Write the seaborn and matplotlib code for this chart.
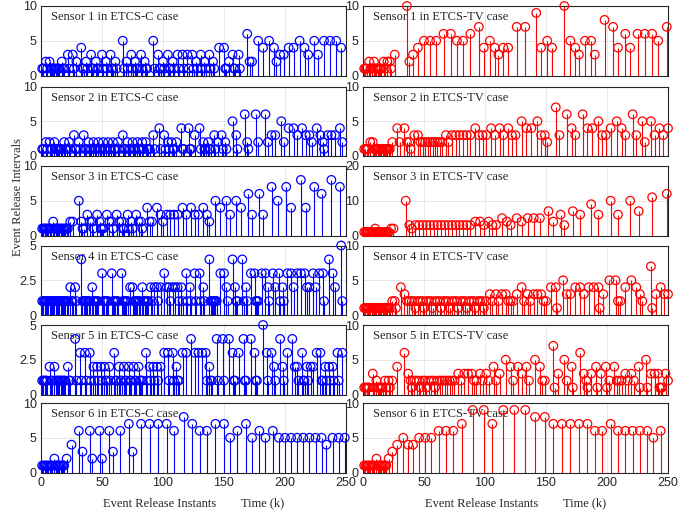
import numpy as np
import matplotlib
matplotlib.use("Agg")
import matplotlib.pyplot as plt
import seaborn as sns

# event release intervals of each sensor, read in event order
# (the release instants are the running sum of the intervals)
c_s1 = [1, 1, 2, 1, 2, 1, 1, 1, 1, 1, 1, 1, 1, 2, 1, 1, 3, 1, 3, 1, 2, 4, 1, 1, 2, 1, 3, 1, 1, 2,
        1, 1, 3, 1, 2, 1, 3, 1, 1, 2, 1, 5, 1, 2, 1, 3, 1, 2, 1, 1, 3, 1, 2, 1, 1, 5, 1, 3, 1, 1,
        2, 1, 3, 1, 1, 2, 1, 3, 1, 3, 1, 3, 1, 3, 1, 2, 1, 3, 1, 2, 1, 3, 1, 2, 1, 4, 4, 1, 1, 2,
        3, 1, 1, 3, 1, 6, 2, 2, 5, 4, 5, 4, 2, 3, 3, 4, 4, 5, 4, 3, 5, 3, 5, 5, 5, 4]
c_s2 = [1, 1, 2, 1, 2, 1, 1, 2, 1, 1, 1, 1, 1, 1, 2, 1, 1, 2, 1, 3, 1, 1, 2, 1, 3, 1, 1, 2, 1, 1,
        2, 1, 1, 2, 1, 1, 2, 1, 1, 2, 1, 1, 2, 1, 1, 2, 1, 3, 1, 1, 2, 1, 1, 2, 1, 1, 2, 1, 1, 2,
        1, 2, 1, 1, 1, 3, 1, 4, 1, 3, 1, 2, 1, 2, 1, 1, 2, 4, 1, 1, 4, 1, 1, 3, 4, 1, 2, 1, 1, 2,
        1, 1, 3, 1, 2, 3, 1, 2, 1, 5, 3, 1, 6, 2, 1, 6, 2, 6, 2, 3, 3, 5, 2, 4, 4, 3, 4, 3, 3, 2,
        4, 3, 2, 1, 3, 3, 3, 4, 2]
c_s3 = [1, 1, 1, 1, 1, 1, 1, 1, 2, 1, 1, 1, 1, 1, 1, 1, 1, 1, 1, 1, 1, 2, 2, 5, 2, 1, 1, 3, 2, 2,
        1, 3, 2, 1, 1, 1, 3, 2, 2, 1, 3, 2, 2, 1, 1, 3, 1, 2, 1, 3, 2, 2, 1, 4, 2, 2, 4, 3, 2, 3,
        3, 3, 3, 4, 3, 4, 3, 3, 4, 3, 2, 5, 4, 5, 3, 5, 4, 6, 3, 6, 3, 7, 5, 7, 4, 8, 4, 7, 6, 8, 7]
c_s4 = [1, 1, 1, 1, 1, 1, 1, 1, 1, 1, 1, 1, 1, 1, 1, 1, 1, 1, 1, 1, 1, 1, 2, 1, 1, 2, 1, 4, 1, 1,
        1, 1, 1, 1, 1, 2, 1, 1, 1, 1, 1, 3, 1, 1, 1, 1, 1, 3, 1, 1, 1, 1, 1, 3, 1, 1, 1, 1, 1, 2,
        2, 1, 1, 1, 1, 1, 1, 2, 1, 1, 1, 1, 1, 2, 1, 2, 2, 1, 2, 3, 2, 2, 1, 2, 2, 2, 1, 2, 1, 3,
        1, 2, 1, 3, 1, 3, 1, 2, 1, 4, 1, 1, 1, 1, 1, 1, 3, 3, 2, 1, 4, 2, 1, 1, 4, 1, 2, 1, 3, 3,
        1, 1, 1, 3, 3, 2, 1, 3, 2, 3, 1, 2, 1, 3, 3, 2, 3, 3, 3, 2, 2, 3, 2, 3, 3, 1, 4, 3, 2, 5, 1]
c_s5 = [1, 1, 1, 1, 1, 2, 1, 1, 2, 1, 1, 1, 1, 1, 1, 1, 1, 1, 2, 1, 1, 4, 1, 3, 1, 3, 1, 3, 1, 2,
        1, 2, 1, 2, 1, 2, 1, 1, 2, 1, 3, 1, 1, 2, 1, 1, 2, 1, 1, 2, 1, 1, 2, 1, 1, 2, 1, 1, 1, 3,
        1, 2, 1, 2, 1, 2, 1, 2, 3, 3, 1, 3, 1, 2, 1, 1, 3, 3, 4, 3, 3, 3, 3, 1, 2, 1, 1, 4, 1, 4,
        1, 4, 3, 1, 1, 3, 4, 1, 1, 4, 3, 1, 1, 5, 3, 1, 3, 2, 1, 4, 2, 1, 3, 4, 2, 2, 1, 3, 1, 1,
        2, 1, 2, 2, 3, 3, 1, 1, 2, 1, 2, 1, 2, 1, 3, 1, 3]
c_s6 = [1, 1, 1, 1, 1, 1, 1, 1, 1, 2, 1, 1, 1, 1, 1, 1, 1, 1, 2, 4, 6, 3, 6, 2, 6, 2, 6, 3, 6, 7,
        3, 7, 7, 7, 7, 6, 8, 7, 6, 6, 7, 7, 5, 6, 7, 5, 6, 5, 6, 5, 5, 5, 5, 5, 5, 5, 5, 4, 5, 5, 5]

tv_s1 = [1, 1, 1, 2, 1, 1, 2, 1, 1, 1, 1, 1, 1, 2, 1, 2, 2, 1, 3, 10, 2, 3, 4, 5, 5, 5, 6, 6, 5, 5,
         6, 7, 4, 5, 4, 3, 4, 4, 7, 7, 9, 4, 5, 4, 10, 5, 4, 3, 5, 5, 3, 8, 7, 4, 6, 4, 6, 6, 6, 5, 7]
tv_s2 = [1, 1, 1, 1, 2, 2, 1, 1, 1, 1, 1, 1, 1, 1, 1, 1, 1, 1, 1, 1, 2, 4, 2, 4, 2, 2, 1, 3, 3, 2,
         2, 2, 2, 2, 2, 2, 2, 2, 2, 3, 2, 3, 3, 3, 3, 3, 3, 4, 3, 3, 3, 4, 3, 4, 3, 4, 3, 3, 5, 4,
         4, 5, 3, 3, 2, 7, 3, 6, 4, 3, 6, 4, 4, 5, 3, 3, 4, 5, 4, 3, 6, 3, 5, 2, 5, 3, 4, 3, 4]
tv_s3 = [1, 1, 1, 1, 1, 1, 1, 1, 2, 1, 1, 1, 1, 1, 1, 1, 1, 1, 1, 1, 2, 2, 10, 3, 2, 3, 3, 3, 3, 3,
         3, 3, 3, 3, 3, 3, 3, 3, 3, 3, 3, 4, 4, 3, 4, 3, 3, 5, 4, 3, 5, 4, 5, 5, 5, 7, 4, 6, 3, 7,
         6, 9, 6, 10, 6, 10, 7, 11, 12]
tv_s4 = [1, 1, 1, 1, 1, 1, 1, 1, 1, 1, 1, 1, 1, 1, 1, 1, 1, 1, 1, 1, 1, 1, 2, 2, 1, 4, 3, 2,
         2, 2, 2, 1, 2, 2, 2, 1, 2, 2, 2, 1, 2, 2, 2, 1, 2, 2, 2, 1, 2, 2, 2, 1, 2, 2, 2, 1,
         2, 2, 2, 1, 2, 2, 2, 1, 2, 3, 2, 3, 2, 3, 3, 2, 2, 2, 3, 4, 2, 3, 2, 3, 3, 3, 2, 2,
         4, 4, 1, 5, 3, 3, 4, 4, 3, 4, 4, 4, 1, 3, 5, 5, 2, 2, 4, 5, 4, 3, 2, 7, 1, 3, 4, 3, 3]
tv_s5 = [1, 1, 1, 1, 1, 3, 1, 2, 1, 1, 1, 1, 1, 2, 1, 2, 1, 2, 4, 6, 3, 2, 1, 2, 2, 2, 1, 2, 2, 1,
         2, 2, 2, 1, 2, 2, 2, 2, 2, 2, 2, 2, 3, 2, 3, 3, 3, 2, 2, 3, 2, 3, 2, 4, 2, 3, 5, 4, 2, 4,
         3, 4, 2, 5, 4, 2, 2, 7, 1, 3, 5, 2, 4, 1, 6, 3, 2, 1, 3, 4, 1, 3, 4, 1, 2, 4, 2, 2, 2, 3,
         2, 3, 2, 4, 1, 5, 1, 3, 3, 3, 1, 1, 1, 3, 2]
tv_s6 = [1, 1, 1, 1, 1, 1, 1, 1, 1, 2, 1, 1, 1, 1, 1, 1, 1, 1, 2, 3, 4, 5, 4, 4, 5, 5, 5, 6, 6, 6,
         7, 9, 9, 7, 9, 9, 9, 8, 8, 7, 7, 7, 7, 7, 6, 6, 7, 6, 6, 6, 6, 6, 5, 6]

c_series = [c_s1, c_s2, c_s3, c_s4, c_s5, c_s6]
tv_series = [tv_s1, tv_s2, tv_s3, tv_s4, tv_s5, tv_s6]
c_ymax = [10, 10, 10, 5, 5, 10]
tv_ymax = [10, 10, 20, 10, 10, 10]
x_ticks = [0, 50, 100, 150, 200, 250]

sns.set_style("white")
plt.rcParams['font.family'] = ['Liberation Sans', 'DejaVu Sans']
serif = 'Liberation Serif'

W, H = 699, 512
fig = plt.figure(figsize=(W / 100, H / 100), dpi=100)

# panel placement in pixels
row_tops = [6, 86.5, 166, 245.5, 325, 403]
row_h = 69.5
col_left = [41, 363]
col_w = [305, 305]


def draw_panel(ax, vals, ymax, color, title, bottom):
    vals = np.array(vals)
    inst = np.cumsum(vals)
    ax.vlines(inst, 0, vals, colors=color, lw=0.8, zorder=2)
    sns.scatterplot(x=inst, y=vals, ax=ax, marker='o', s=38, facecolor='none',
                    edgecolor=color, linewidth=0.9, zorder=3, clip_on=False)
    ax.set_xlim(0, 250)
    ax.set_ylim(0, ymax)
    ax.set_xticks(x_ticks)
    yt = [0, ymax / 2, ymax]
    ax.set_yticks(yt)
    ax.set_yticklabels([f"{v:g}" for v in yt])
    if not bottom:
        ax.set_xticklabels([])
    ax.grid(True, color='#e3e3e3', lw=0.6)
    ax.set_axisbelow(True)
    ax.tick_params(direction='in', length=3, labelsize=9, colors='#262626', pad=3)
    for sp in ax.spines.values():
        sp.set_color('#262626')
        sp.set_linewidth(0.8)
    ax.text(0.032, 0.84, title, transform=ax.transAxes, family=serif, fontsize=9,
            va='center', ha='left', zorder=1)
    ax.set_xlabel('')
    ax.set_ylabel('')


for col, (series, ymaxes, color, case) in enumerate(
        [(c_series, c_ymax, 'blue', 'ETCS-C'), (tv_series, tv_ymax, 'red', 'ETCS-TV')]):
    for row in range(6):
        left = col_left[col] / W
        bottom = 1 - (row_tops[row] + row_h) / H
        ax = fig.add_axes([left, bottom, col_w[col] / W, row_h / H])
        draw_panel(ax, series[row], ymaxes[row], color,
                   f"Sensor {row + 1} in {case} case", row == 5)

for cx in [41 + 305 / 2, 363 + 305 / 2]:
    fig.text(cx / W, 1 - 503 / H, "Event Release Instants        Time (k)",
             family=serif, fontsize=9, ha='center', va='center')

fig.text(18 / W, 1 - 197 / H, "Event Release Intervals", family=serif, fontsize=9,
         rotation=90, ha='center', va='center')

fig.savefig("out.png", dpi=100)
